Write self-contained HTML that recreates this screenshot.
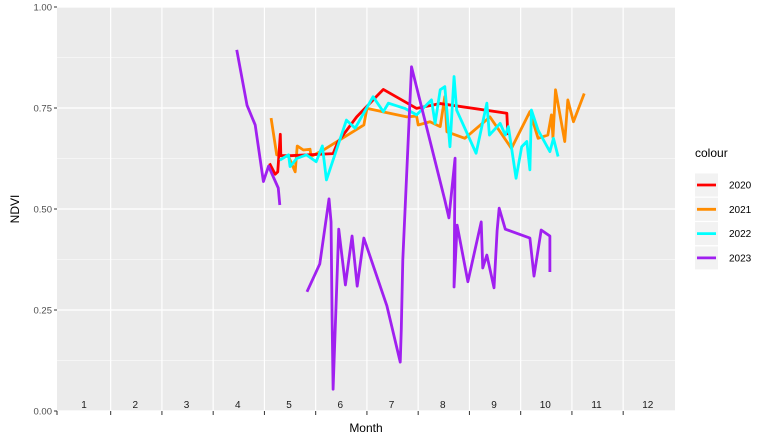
<!DOCTYPE html>
<html><head><meta charset="utf-8"><style>
body{margin:0;background:#fff;}
svg{display:block;font-family:"Liberation Sans",Arial,sans-serif;}
</style></head><body>
<svg id="c" width="773" height="442" viewBox="0 0 773 442"></svg>
<script>
const months=[1,2,3,4,5,6,7,8,9,10,11,12];
const yTicks=[0,0.25,0.5,0.75,1.0];
const yTickLabels=["0.00","0.25","0.50","0.75","1.00"];
const seriesNames=["2020","2021","2022","2023"];
const seriesColors=["#ff0000","#ff8c00","#00ffff","#a020f0"];
const m2020=[4.6,4.71,4.76,4.81,4.82,5.0,5.84,5.93,6.3,6.82,7.47,7.93,9.23,9.25];
const v2020=[0.613,0.586,0.592,0.685,0.632,0.632,0.637,0.665,0.728,0.796,0.749,0.761,0.737,0.683];
const m2021=[4.63,4.74,4.97,5.1,5.14,5.26,5.39,5.41,5.65,6.44,6.5,7.28,7.47,7.5,7.73,7.93,8.02,8.06,8.41,8.9,9.32,9.68,9.84,10.03,10.1,10.13,10.18,10.36,10.42,10.53,10.74];
const v2021=[0.725,0.634,0.63,0.592,0.656,0.646,0.648,0.63,0.646,0.708,0.749,0.728,0.73,0.708,0.716,0.704,0.778,0.691,0.675,0.728,0.65,0.741,0.675,0.683,0.733,0.677,0.795,0.667,0.77,0.716,0.786];
const m2022=[4.8,4.97,5.0,5.13,5.32,5.51,5.63,5.71,6.1,6.27,6.62,6.82,6.92,7.24,7.47,7.76,7.83,7.93,8.02,8.12,8.2,8.25,8.63,8.84,8.89,9.1,9.2,9.26,9.41,9.52,9.62,9.68,9.71,9.84,10.07,10.14,10.23];
const v2022=[0.621,0.634,0.605,0.625,0.634,0.617,0.656,0.572,0.72,0.7,0.778,0.741,0.762,0.749,0.733,0.77,0.712,0.795,0.803,0.654,0.828,0.745,0.638,0.762,0.683,0.712,0.683,0.704,0.576,0.654,0.667,0.597,0.745,0.695,0.642,0.675,0.63];
const m2023a=[3.96,4.16,4.32,4.48,4.58,4.77,4.8];
const v2023a=[0.894,0.757,0.708,0.568,0.606,0.552,0.51];
const m2023b=[5.33,5.58,5.76,5.8,5.82,5.84,5.95,6.08,6.21,6.31,6.44,6.89,7.15,7.17,7.2,7.37,8.02,8.1,8.22,8.2,8.26,8.47,8.73,8.76,8.84,8.98,9.04,9.08,9.2,9.68,9.76,9.9,10.07,10.07];
const v2023b=[0.295,0.364,0.525,0.468,0.233,0.054,0.45,0.312,0.433,0.309,0.428,0.26,0.121,0.2,0.374,0.852,0.522,0.478,0.626,0.307,0.46,0.32,0.468,0.354,0.386,0.305,0.446,0.502,0.45,0.428,0.334,0.448,0.433,0.344];

const NS="http://www.w3.org/2000/svg";
const svg=document.getElementById('c');
const L=57,R=675,T=7,B=411;
const x=m=>33.8+51.25*m;
const y=v=>B-(B-T)*v;
function mk(tag,attrs,parent){const e=document.createElementNS(NS,tag);for(const k in attrs)e.setAttribute(k,attrs[k]);(parent||svg).appendChild(e);return e;}

const bg=mk('rect',{x:L,y:T,width:R-L,height:B-T,fill:'#ebebeb'});


// minor horizontal grid
for(let i=0;i<yTicks.length-1;i++){
  const g=mk('line',{x1:L,x2:R,y1:y((yTicks[i]+yTicks[i+1])/2),y2:y((yTicks[i]+yTicks[i+1])/2),stroke:'#fff','stroke-width':0.6});
  
  
}
yTicks.forEach((t,i)=>{
  const g=mk('line',{x1:L,x2:R,y1:y(t),y2:y(t),stroke:'#fff','stroke-width':1.2});
  
  
  const tk=mk('line',{x1:L-3,x2:L,y1:y(t),y2:y(t),stroke:'#333','stroke-width':1});
  
  
  const tx=mk('text',{x:L-5,y:y(t)+3.5,'text-anchor':'end','font-size':9.5,fill:'#4d4d4d'});
  tx.textContent=yTickLabels[i];
  
  
});
months.forEach(m=>{
  if(m<12){
    const gx=x(m+0.5);
    const g=mk('line',{x1:gx,x2:gx,y1:T,y2:B,stroke:'#fff','stroke-width':1.2});
    
    
    const tk=mk('line',{x1:gx,x2:gx,y1:B,y2:B+4,stroke:'#333','stroke-width':1});
    
    
  }
  const tx=mk('text',{x:x(m)-1,y:B-3,'text-anchor':'middle','font-size':10,fill:'#1a1a1a'});
  tx.textContent=m;
  
  
});
const tk0=mk('line',{x1:L,x2:L,y1:B,y2:B+4,stroke:'#333','stroke-width':1});



function line(ms,vs,color,name){
  const p=mk('polyline',{points:ms.map((m,i)=>x(m)+','+y(vs[i])).join(' '),fill:'none',stroke:color,'stroke-width':2.8,'stroke-linejoin':'round'});
  
  
}
line(m2021,v2021,seriesColors[1],'line-2021');
line(m2020,v2020,seriesColors[0],'line-2020');
line(m2022,v2022,seriesColors[2],'line-2022');
line(m2023a,v2023a,seriesColors[3],'line-2023');
line(m2023b,v2023b,seriesColors[3],'line-2023');

const yt=mk('text',{x:19,y:209,'text-anchor':'middle','font-size':12,fill:'#000',transform:'rotate(-90 19 209)'});
yt.textContent='NDVI';


const xt=mk('text',{x:366,y:432,'text-anchor':'middle','font-size':12,fill:'#000'});
xt.textContent='Month';



const lt=mk('text',{x:695,y:157,'font-size':12,fill:'#000'});
lt.textContent='colour';


seriesNames.forEach((n,i)=>{
  const cy=185+i*24.3;
  const kb=mk('rect',{x:695,y:cy-11.5,width:23,height:23,fill:'#f2f2f2'});
  
  
  const kl=mk('line',{x1:697,x2:716,y1:cy,y2:cy,stroke:seriesColors[i],'stroke-width':2.8});
  
  
  const kt=mk('text',{x:729,y:cy+3.5,'font-size':10,fill:'#000'});
  kt.textContent=n;
  
  
});
</script>
</body></html>
